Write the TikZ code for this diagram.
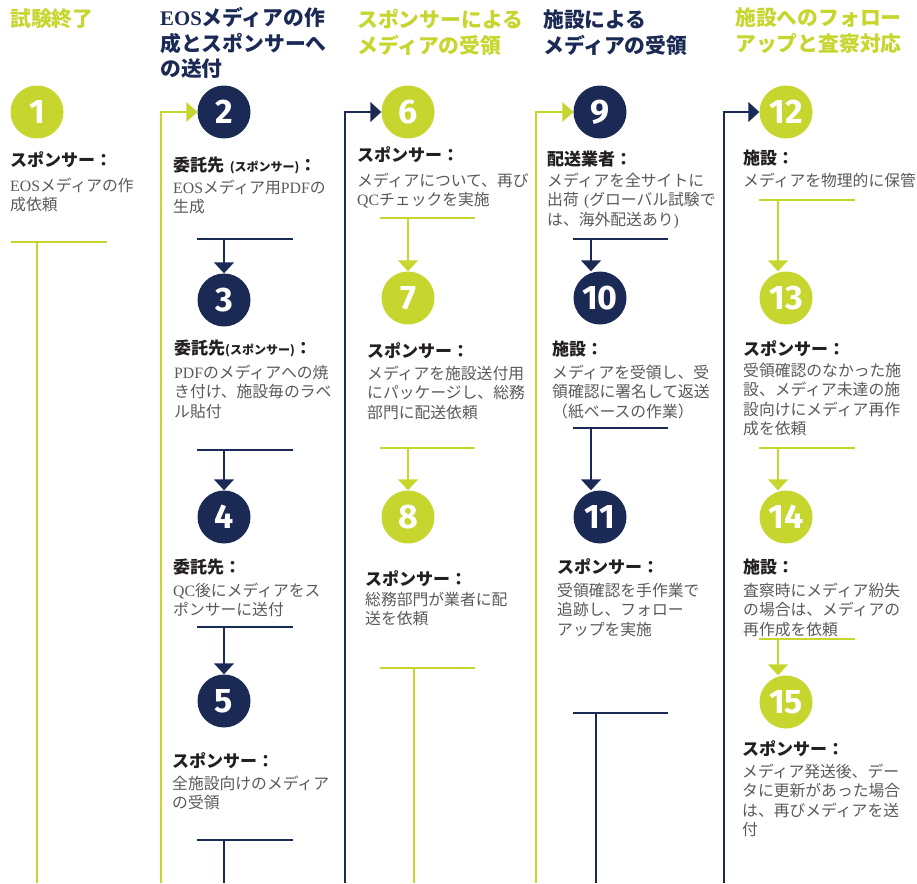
\documentclass[tikz,border=0pt]{standalone}
\usepackage{fontspec}
\setmainfont{Noto Sans CJK JP}
\setsansfont{Fira Sans}
\newfontfamily\latserif{Liberation Serif}
\usetikzlibrary{arrows.meta}
\definecolor{mygreen}{RGB}{198,214,46}
\definecolor{mynavy}{RGB}{27,42,85}
\definecolor{lbltxt}{RGB}{35,31,32}
\definecolor{bodytxt}{RGB}{88,89,91}
\newcommand{\lat}[1]{{\latserif #1}}
\newcommand{\smallpar}[1]{{\fontsize{12}{12}\selectfont #1}}
\begin{document}
\begin{tikzpicture}[x=1pt,y=-1pt,
  num/.style={circle,minimum size=53pt,inner sep=0pt,text=white,font=\sffamily\bfseries\fontsize{34}{34}\selectfont},
  gnum/.style={num,fill=mygreen},
  nnum/.style={num,fill=mynavy},
  ttl/.style={anchor=base west,inner sep=0pt,text width=230pt,align=left,font=\bfseries\fontsize{20.8}{25.5}\selectfont},
  lbl/.style={anchor=base west,inner sep=0pt,text width=230pt,align=left,text=lbltxt,font=\bfseries\fontsize{17}{19}\selectfont},
  bodytext/.style={anchor=base west,inner sep=0pt,text width=230pt,align=left,text=bodytxt,font=\fontsize{15.8}{19.5}\selectfont},
  gline/.style={draw=mygreen,line width=1.4pt},
  nline/.style={draw=mynavy,line width=1.4pt},
  arr/.style={-{Triangle[length=11pt,width=20pt]}}
]
\useasboundingbox (0,0) rectangle (917,883);

% titles
\node[ttl,text=mygreen] (t1) at (10,27) {試験終了};
\node[ttl,text=mynavy] (t2) at (160,26) {\lat{EOS}メディアの作\\成とスポンサーへ\\の送付};
\node[ttl,text=mygreen] (t3) at (357,28) {スポンサーによる\\メディアの受領};
\node[ttl,text=mynavy] (t4) at (543,28) {施設による\\メディアの受領};
\node[ttl,text=mygreen] (t5) at (735,26) {施設へのフォロー\\アップと査察対応};

% circles
\node[gnum] (c1) at (37,112) {1};
\node[nnum] (c2) at (224,112) {2};
\node[nnum] (c3) at (224,300) {3};
\node[nnum] (c4) at (224,517) {4};
\node[nnum] (c5) at (224,701) {5};
\node[gnum] (c6) at (408,112) {6};
\node[gnum] (c7) at (408,298) {7};
\node[gnum] (c8) at (408,517) {8};
\node[nnum] (c9) at (600,112) {9};
\node[nnum] (c10) at (600,298) {10};
\node[nnum] (c11) at (600,517) {11};
\node[gnum] (c12) at (786,112) {12};
\node[gnum] (c13) at (786,298) {13};
\node[gnum] (c14) at (786,517) {14};
\node[gnum] (c15) at (786,702) {15};

% labels and bodies
\node[lbl] (s1) at (10,166.5) {スポンサー：};
\node[bodytext] (b1) at (10,191) {\lat{EOS}メディアの作\\成依頼};
\node[lbl] (s2) at (173,171.5) {委託先 \smallpar{(スポンサー)}：};
\node[bodytext] (b2) at (173,193) {\lat{EOS}メディア用\lat{PDF}の\\生成};
\node[lbl] (s3) at (174,354.5) {委託先\smallpar{(スポンサー)}：};
\node[bodytext] (b3) at (174,378) {\lat{PDF}のメディアへの焼\\き付け、施設毎のラベ\\ル貼付};
\node[lbl] (s4) at (173,573.5) {委託先：};
\node[bodytext] (b4) at (173,596) {\lat{QC}後にメディアをス\\ポンサーに送付};
\node[lbl] (s5) at (172,767.5) {スポンサー：};
\node[bodytext] (b5) at (172,789) {全施設向けのメディア\\の受領};
\node[lbl] (s6) at (357,161.5) {スポンサー：};
\node[bodytext] (b6) at (357,186) {メディアについて、再び\\\lat{QC}チェックを実施};
\node[lbl] (s7) at (367,357.5) {スポンサー：};
\node[bodytext] (b7) at (367,379) {メディアを施設送付用\\にパッケージし、総務\\部門に配送依頼};
\node[lbl] (s8) at (365,585.5) {スポンサー：};
\node[bodytext] (b8) at (365,605) {総務部門が業者に配\\送を依頼};
\node[lbl] (s9) at (547,165.5) {配送業者：};
\node[bodytext] (b9) at (547,186) {メディアを全サイトに\\出荷 \lat{(}グローバル試験で\\は、海外配送あり\lat{)}};
\node[lbl] (s10) at (552,355.5) {施設：};
\node[bodytext] (b10) at (552,378) {メディアを受領し、受\\領確認に署名して返送\\（紙ベースの作業）};
\node[lbl] (s11) at (557,573.5) {スポンサー：};
\node[bodytext] (b11) at (557,596) {受領確認を手作業で\\追跡し、フォロー\\アップを実施};
\node[lbl] (s12) at (743,164.5) {施設：};
\node[bodytext] (b12) at (743,186) {メディアを物理的に保管};
\node[lbl] (s13) at (743,355.5) {スポンサー：};
\node[bodytext] (b13) at (743,376) {受領確認のなかった施\\設、メディア未達の施\\設向けにメディア再作\\成を依頼};
\node[lbl] (s14) at (743,573.5) {施設：};
\node[bodytext] (b14) at (743,596) {査察時にメディア紛失\\の場合は、メディアの\\再作成を依頼};
\node[lbl] (s15) at (742,755.5) {スポンサー：};
\node[bodytext] (b15) at (742,777) {メディア発送後、デー\\タに更新があった場合\\は、再びメディアを送\\付};

% junction and edge coordinates
\coordinate (j1) at (37,242);   \coordinate (e1) at (37,883);
\coordinate (f2) at (161,883);
\coordinate (j2) at (224,239);
\coordinate (j3) at (224,450);
\coordinate (j4) at (224,627);
\coordinate (j5) at (224,840);  \coordinate (e5) at (224,883);
\coordinate (f6) at (345,883);
\coordinate (j6) at (408,218);
\coordinate (j7) at (408,448);
\coordinate (j8) at (414,668);  \coordinate (e8) at (414,883);
\coordinate (f9) at (536,883);
\coordinate (j9) at (591,239);
\coordinate (j10) at (591,428);
\coordinate (j11) at (596,713); \coordinate (e11) at (596,883);
\coordinate (f12) at (724,883);
\coordinate (j12) at (778,200);
\coordinate (j13) at (778,448);
\coordinate (j14) at (778,639);

% bars
\draw[gline] (11,242) -- (107,242);
\draw[nline] (197,239) -- (293,239);
\draw[nline] (197,450) -- (293,450);
\draw[nline] (197,627) -- (293,627);
\draw[nline] (197,840) -- (293,840);
\draw[gline] (380,218) -- (475,218);
\draw[gline] (380,448) -- (475,448);
\draw[gline] (380,668) -- (475,668);
\draw[nline] (573,239) -- (668,239);
\draw[nline] (573,428) -- (668,428);
\draw[nline] (573,713) -- (668,713);
\draw[gline] (759,200) -- (855,200);
\draw[gline] (759,448) -- (855,448);
\draw[gline] (759,639) -- (855,639);

% connectors
\draw[gline] (j1) -- (e1);
\draw[gline,arr,mygreen] (f2) |- (c2);
\draw[nline,arr,mynavy] (j2) -- (c3);
\draw[nline,arr,mynavy] (j3) -- (c4);
\draw[nline,arr,mynavy] (j4) -- (c5);
\draw[nline] (j5) -- (e5);
\draw[nline,arr,mynavy] (f6) |- (c6);
\draw[gline,arr,mygreen] (j6) -- (c7);
\draw[gline,arr,mygreen] (j7) -- (c8);
\draw[gline] (j8) -- (e8);
\draw[gline,arr,mygreen] (f9) |- (c9);
\draw[nline,arr,mynavy] (j9) -- (j9 |- c10.north);
\draw[nline,arr,mynavy] (j10) -- (j10 |- c11.north);
\draw[nline] (j11) -- (e11);
\draw[nline,arr,mynavy] (f12) |- (c12);
\draw[gline,arr,mygreen] (j12) -- (j12 |- c13.north);
\draw[gline,arr,mygreen] (j13) -- (j13 |- c14.north);
\draw[gline,arr,mygreen] (j14) -- (j14 |- c15.north);
\end{tikzpicture}
\end{document}
